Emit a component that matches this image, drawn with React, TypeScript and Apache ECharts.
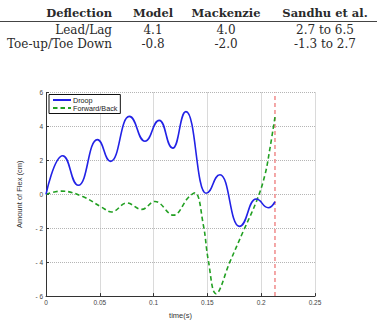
import React, { useEffect, useRef } from "react";
import * as echarts from "echarts";

// Table contents
const tableHeader = ["Deflection", "Model", "Mackenzie", "Sandhu et al."];
const tableRow1 = ["Lead/Lag", "4.1", "4.0", "2.7 to 6.5"];
const tableRow2 = ["Toe-up/Toe Down", "-0.8", "-2.0", "-1.3 to 2.7"];

// Droop (blue)
const droopTime = [0, 0.0155, 0.03, 0.0477, 0.0601, 0.0774, 0.092, 0.1053, 0.1178, 0.1301, 0.1487, 0.1617, 0.1797, 0.1952, 0.2066, 0.2128];
const droopValue = [0, 2.27, 0.53, 3.22, 1.94, 4.59, 3.13, 4.36, 2.72, 4.87, 0.06, 1.15, -1.89, -0.28, -0.79, -0.44];

// Forward/Back (green)
const fbTime = [0, 0.0146, 0.0347, 0.0517, 0.061, 0.075, 0.0889, 0.1013, 0.1183, 0.1323, 0.1385, 0.1462, 0.1508, 0.158, 0.171, 0.1834, 0.1958, 0.2035, 0.208, 0.2128];
const fbValue = [0, 0.19, -0.15, -0.76, -1.04, -0.51, -0.89, -0.42, -1.23, -0.19, 0.09, -1.8, -3.87, -5.86, -3.97, -2.17, -0.38, 1.15, 2.66, 4.55];

// Red marker line
const markerTime = 0.2128;
const markerRange = [-6, 6];

const xTicks = [0, 0.05, 0.1, 0.15, 0.2, 0.25];
const yTicks = [-6, -4, -2, 0, 2, 4, 6];

export default function App() {
  const ref = useRef<HTMLDivElement>(null);
  useEffect(() => {
    document.body.style.margin = "0";
    const chart = echarts.init(ref.current!, null, { renderer: "svg" });
    const serif = "'DejaVu Serif', serif";
    const colX = [112, 153, 226, 325];
    const rowY = [13, 30, 44];
    const rows = [tableHeader, tableRow1, tableRow2];
    const tableTexts: any[] = [];
    rows.forEach((row, ri) => {
      row.forEach((txt, ci) => {
        tableTexts.push({
          type: "text",
          x: colX[ci],
          y: rowY[ri],
          style: {
            text: txt,
            fontFamily: serif,
            fontSize: ri === 0 ? 11.5 : 12,
            fontWeight: ri === 0 ? "bold" : "normal",
            fill: "#2a2a2a",
            align: ci === 0 ? "right" : "center",
            verticalAlign: "middle",
          },
        });
      });
    });
    tableTexts.push({
      type: "line",
      shape: { x1: 0, y1: 21.5, x2: 377, y2: 21.5 },
      style: { stroke: "#444", lineWidth: 1 },
    });

    const sans = "'Liberation Sans', Arial, sans-serif";
    chart.setOption({
      animation: false,
      grid: { left: 46, top: 92.5, width: 269, height: 212, containLabel: false },
      graphic: tableTexts,
      legend: {
        data: ["Droop", "Forward/Back"],
        orient: "vertical",
        left: 49,
        top: 94.5,
        padding: [2, 3, 2, 3],
        itemGap: 1,
        itemWidth: 18,
        itemHeight: 8,
        borderColor: "#111",
        borderWidth: 1,
        backgroundColor: "#fff",
        itemStyle: { opacity: 0, borderWidth: 0 },
        textStyle: { fontFamily: sans, fontSize: 7.2, color: "#222", padding: [0, 0, 0, -3] },
      },
      xAxis: {
        type: "value",
        min: 0,
        max: 0.25,
        interval: 0.05,
        name: "time(s)",
        nameLocation: "middle",
        nameGap: 13,
        nameTextStyle: { fontFamily: sans, fontSize: 7.5, color: "#333" },
        axisLine: { onZero: false, lineStyle: { color: "#333", width: 1 } },
        axisTick: { inside: true, length: 3, lineStyle: { color: "#333" } },
        axisLabel: {
          fontFamily: sans,
          fontSize: 6.5,
          color: "#444",
          margin: 3,
          formatter: (v: number) => String(xTicks.find((t) => Math.abs(t - v) < 1e-9) ?? v),
        },
        splitLine: { show: true, lineStyle: { type: "dotted", color: "#b5b5b5", width: 1 } },
      },
      yAxis: {
        type: "value",
        min: -6,
        max: 6,
        interval: 2,
        name: "Amount of Flex (cm)",
        nameLocation: "middle",
        nameGap: 23,
        nameRotate: 90,
        nameTextStyle: { fontFamily: sans, fontSize: 7.5, color: "#333" },
        axisLine: { onZero: false, lineStyle: { color: "#333", width: 1 } },
        axisTick: { inside: true, length: 3, lineStyle: { color: "#333" } },
        axisLabel: {
          fontFamily: sans,
          fontSize: 6.5,
          color: "#444",
          margin: 3,
          formatter: (v: number) => {
            const t = yTicks.find((k) => Math.abs(k - v) < 1e-9) ?? v;
            return t < 0 ? "- " + Math.abs(t) : String(t);
          },
        },
        splitLine: { show: true, lineStyle: { type: "dotted", color: "#b5b5b5", width: 1 } },
      },
      series: [
        {
          name: "Droop",
          type: "line",
          data: droopTime.map((t, i) => [t, droopValue[i]]),
          smooth: 0.5,
          smoothMonotone: "x",
          symbol: "none",
          lineStyle: { color: "#2222e6", width: 1.6 },
          itemStyle: { color: "#2222e6" },
          z: 3,
        },
        {
          name: "Forward/Back",
          type: "line",
          data: fbTime.map((t, i) => [t, fbValue[i]]),
          smooth: 0.4,
          symbol: "none",
          lineStyle: { color: "#22a022", width: 1.6, type: [4.5, 3] },
          itemStyle: { color: "#22a022" },
          z: 2,
        },
        {
          name: "marker",
          type: "line",
          data: markerRange.map((y) => [markerTime, y]),
          symbol: "none",
          lineStyle: { color: "#f08a8a", width: 1.5, type: [4, 3] },
          z: 1,
        },
      ],
    });
    return () => chart.dispose();
  }, []);
  return <div ref={ref} style={{ width: 377, height: 324 }} />;
}
